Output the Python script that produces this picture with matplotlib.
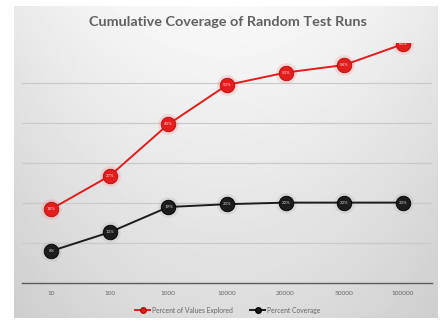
import numpy as np
import matplotlib
matplotlib.use("Agg")
import matplotlib.pyplot as plt
from matplotlib.lines import Line2D

# Number of random test runs (category axis)
runs = ["10", "100", "1000", "10000", "20000", "50000", "100000"]
# Cumulative percentages
values_explored = [18.5, 26.8, 39.7, 49.5, 52.6, 54.5, 59.7]
coverage = [8.0, 12.7, 19.0, 19.7, 20.1, 20.1, 20.1]

title = "Cumulative Coverage of Random Test Runs"
series_names = ["Percent of Values Explored", "Percent Coverage"]

W, H, DPI = 442, 324, 100
fig = plt.figure(figsize=(W / DPI, H / DPI), dpi=DPI)
fig.patch.set_facecolor("white")

# Chart panel with a soft gradient background
panel = fig.add_axes([14 / W, 1 - 318 / H, (438 - 14) / W, (318 - 6) / H])
gy = np.linspace(0, 1, 200)[:, None]
gx = np.linspace(-1, 1, 300)[None, :]
shade = 0.975 - 0.11 * gy - 0.06 * gx ** 2
panel.imshow(shade, cmap="gray", vmin=0, vmax=1, aspect="auto",
             extent=[0, 1, 0, 1], origin="upper")
panel.set_xlim(0, 1)
panel.set_ylim(0, 1)
panel.axis("off")
panel.set_zorder(0)

# Plot area
left, right, top, bottom = 22, 432, 43, 283
ax = fig.add_axes([left / W, 1 - bottom / H, (right - left) / W, (bottom - top) / H])
ax.set_zorder(1)
ax.patch.set_alpha(0)
x = np.arange(len(runs))
ax.set_xlim(-0.5, len(runs) - 0.5)
ax.set_ylim(0, 60)

for yv in range(10, 60, 10):
    ax.axhline(yv, color="#cacaca", lw=0.9, zorder=1)

for s in ["top", "right", "left"]:
    ax.spines[s].set_visible(False)
ax.spines["bottom"].set_color("#5a5a5a")
ax.spines["bottom"].set_linewidth(1.0)
ax.set_yticks([])
ax.set_xticks(x)
ax.set_xticklabels(runs, fontsize=4.6, color="#666666", family="Lato")
ax.tick_params(axis="x", length=0, pad=6)

red = "#e31c1c"
dark = "#1c1c1c"

# Soft glow under the markers
ax.plot(x, values_explored, "o", ms=15, color="#ff8a8a", alpha=0.25, zorder=2, mec="none")
ax.plot(x, coverage, "o", ms=15, color="#bbbbbb", alpha=0.3, zorder=2, mec="none")

ax.plot(x, values_explored, "-", color=red, lw=1.4, zorder=3,
        marker="o", ms=10.5, mfc=red, mec="#b01010", mew=0.6)
ax.plot(x, coverage, "-", color=dark, lw=1.4, zorder=3,
        marker="o", ms=10.5, mfc=dark, mec="#000000", mew=0.6)

for xi, v in zip(x, values_explored):
    ax.text(xi, v, f"{v:.0f}%", ha="center", va="center", fontsize=3.2,
            color="#ffd6d6", zorder=4, family="Lato")
for xi, v in zip(x, coverage):
    ax.text(xi, v, f"{v:.0f}%", ha="center", va="center", fontsize=3.2,
            color="#d0d0d0", zorder=4, family="Lato")

fig.text(228 / W, 1 - 22 / H, title, ha="center", va="center",
         fontsize=10.4, fontweight="bold", color="#606060", family="Lato")

handles = [
    Line2D([], [], color=red, lw=1.4, marker="o", ms=4, mfc=red, mec="#b01010"),
    Line2D([], [], color=dark, lw=1.4, marker="o", ms=4, mfc=dark, mec="#000000"),
]
fig.legend(handles, series_names, loc="center", bbox_to_anchor=(228 / W, 1 - 310 / H),
           ncol=2, frameon=False, handlelength=2.2, handletextpad=0.3,
           columnspacing=2.5, labelcolor="#666666", prop={"family": "Lato", "size": 4.9})

fig.savefig("out.png", dpi=DPI)
